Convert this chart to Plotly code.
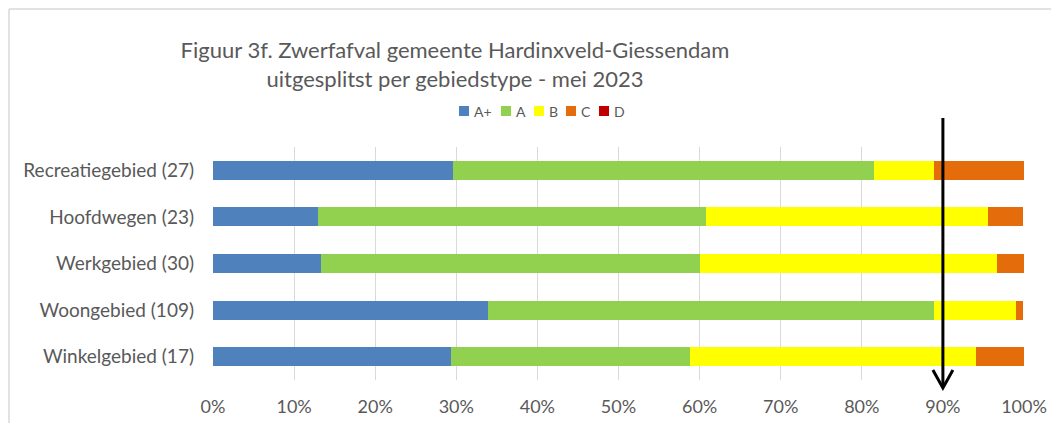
import plotly.graph_objects as go

categories = ["Recreatiegebied (27)", "Hoofdwegen (23)", "Werkgebied (30)", "Woongebied (109)", "Winkelgebied (17)"]
series_names = ["A+", "A", "B", "C", "D"]
a_plus = [29.6, 13.0, 13.3, 33.9, 29.4]
a_val = [51.9, 47.8, 46.7, 55.0, 29.4]
b_val = [7.4, 34.8, 36.7, 10.1, 35.3]
c_val = [11.1, 4.3, 3.3, 0.9, 5.9]
d_val = [0.0, 0.0, 0.0, 0.0, 0.0]
colors = ["#4f81bd", "#92d050", "#ffff00", "#e46c0a", "#c00000"]
tick_vals = [0, 10, 20, 30, 40, 50, 60, 70, 80, 90, 100]
tick_text = ["0%", "10%", "20%", "30%", "40%", "50%", "60%", "70%", "80%", "90%", "100%"]
arrow_x = 90

# page body has an 8px default margin; work in screen pixels and subtract it
OFF = 8
VW, VH = 1059, 423
W, H = VW - OFF, VH - OFF
# plot area in screen pixels
PL, PR, PT, PB = 213, 1024, 147, 380
ML, MR, MT, MB = PL - OFF, W - (PR - OFF), PT - OFF, H - (PB - OFF)
PW, PH = PR - PL, PB - PT


def px_x(px):
    return (px - PL) / PW


def px_y(py):
    return (PB - py) / PH


FONT = "Lato"
GRAY = "#595959"

fig = go.Figure()
for name, vals, col in zip(series_names, [a_plus, a_val, b_val, c_val, d_val], colors):
    fig.add_trace(go.Bar(
        y=categories, x=vals, name=name, orientation="h",
        marker=dict(color=col, line=dict(width=0)),
        hoverinfo="skip", showlegend=False,
    ))

shapes = []
annotations = []
# chart frame (top and left edges)
shapes.append(dict(type="line", xref="paper", yref="paper",
                   x0=px_x(9), x1=px_x(VW + 5), y0=px_y(9), y1=px_y(9),
                   line=dict(color="#d9d9d9", width=1.5)))
shapes.append(dict(type="line", xref="paper", yref="paper",
                   x0=px_x(9), x1=px_x(9), y0=px_y(9), y1=px_y(VH + 5),
                   line=dict(color="#d9d9d9", width=1.5)))
# arrow
unit = PW / 100.0
shapes.append(dict(type="line", xref="x", yref="paper",
                   x0=arrow_x, x1=arrow_x, y0=px_y(118), y1=px_y(387),
                   line=dict(color="black", width=3)))
shapes.append(dict(type="path", xref="x", yref="paper",
                   path=f"M {arrow_x - 10 / unit} {px_y(370)} L {arrow_x} {px_y(388)} L {arrow_x + 10 / unit} {px_y(370)}",
                   line=dict(color="black", width=3)))

# custom compact legend
legend_marker_x = [459, 501, 534, 566, 599]
LY = 111
for name, col, mx in zip(series_names, colors, legend_marker_x):
    shapes.append(dict(type="rect", xref="paper", yref="paper",
                       x0=px_x(mx), x1=px_x(mx + 10), y0=px_y(LY + 5), y1=px_y(LY - 5),
                       fillcolor=col, line=dict(width=0)))
    annotations.append(dict(xref="paper", yref="paper", x=px_x(mx + 13), y=px_y(LY),
                            xanchor="left", yanchor="middle", showarrow=False,
                            text=name, font=dict(family=FONT, size=14, color=GRAY)))

fig.update_layout(
    width=W, height=H,
    margin=dict(l=ML, r=MR, t=MT, b=MB),
    barmode="stack",
    bargap=0.59,
    plot_bgcolor="white", paper_bgcolor="white",
    font=dict(family=FONT, color=GRAY, size=19),
    title=dict(text="Figuur 3f. Zwerfafval gemeente Hardinxveld-Giessendam<br>uitgesplitst per gebiedstype - mei 2023",
               x=(455 - OFF) / W, xanchor="center", xref="container",
               y=1 - (58 - OFF) / H, yanchor="middle", yref="container",
               font=dict(family=FONT, size=22, color=GRAY)),
    showlegend=False,
    xaxis=dict(range=[0, 100], tickvals=tick_vals, ticktext=tick_text,
               showgrid=True, gridcolor="#d9d9d9", gridwidth=1,
               zeroline=False, showline=False, ticks="",
               ticklabelstandoff=14, fixedrange=True, automargin=False,
               tickfont=dict(family=FONT, size=18, color=GRAY)),
    yaxis=dict(autorange="reversed", showgrid=False, zeroline=False,
               showline=False, ticks="", ticklabelstandoff=18,
               fixedrange=True, automargin=False,
               tickfont=dict(family=FONT, size=19, color=GRAY)),
    shapes=shapes,
    annotations=annotations,
)

fig.write_html("out.html")
